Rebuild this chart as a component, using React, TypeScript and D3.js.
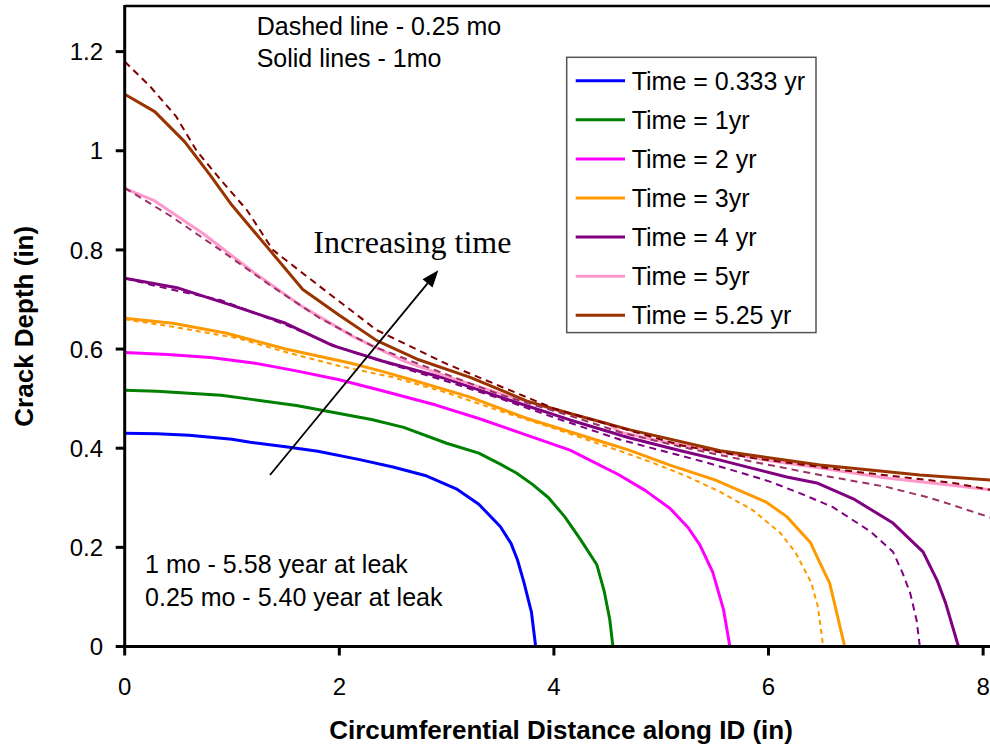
import React from 'react';
import * as d3 from 'd3';

type P = [number, number];

const W = 990;
const H = 747;

const xTicks = [0, 2, 4, 6, 8];
const yTicks = [0, 0.2, 0.4, 0.6, 0.8, 1, 1.2];

const legendLabels = [
  'Time = 0.333 yr',
  'Time = 1yr',
  'Time = 2 yr',
  'Time = 3yr',
  'Time = 4 yr',
  'Time = 5yr',
  'Time = 5.25 yr',
];
const solidColors = ['#0000FF', '#008000', '#FF00FF', '#FF9900', '#800080', '#FF99CC', '#993300'];

// Solid lines (1 mo step)
const t0333: P[] = [[0,0.430],[0.3,0.429],[0.6,0.426],[1.0,0.418],[1.17,0.412],[1.5,0.403],[1.8,0.394],[2.19,0.377],[2.5,0.362],[2.8,0.345],[3.09,0.318],[3.3,0.287],[3.5,0.242],[3.6,0.208],[3.66,0.175],[3.72,0.13],[3.79,0.07],[3.83,0]];
const t1: P[] = [[0,0.517],[0.3,0.515],[0.6,0.511],[0.9,0.507],[1.2,0.498],[1.6,0.486],[2.0,0.47],[2.3,0.458],[2.6,0.442],[3.0,0.41],[3.3,0.39],[3.5,0.368],[3.65,0.35],[3.8,0.327],[3.95,0.3],[4.1,0.262],[4.25,0.215],[4.4,0.165],[4.47,0.11],[4.52,0.055],[4.55,0]];
const t2: P[] = [[0,0.593],[0.4,0.589],[0.8,0.583],[1.2,0.572],[1.6,0.556],[2.0,0.538],[2.4,0.516],[2.9,0.487],[3.3,0.46],[3.7,0.43],[4.15,0.396],[4.6,0.347],[4.85,0.315],[5.08,0.279],[5.25,0.24],[5.36,0.205],[5.48,0.15],[5.58,0.075],[5.64,0]];
const t3: P[] = [[0,0.662],[0.45,0.652],[0.95,0.632],[1.5,0.6],[2.1,0.572],[2.4,0.555],[2.72,0.535],[3.22,0.503],[3.75,0.46],[4.3,0.423],[4.7,0.396],[5.08,0.366],[5.5,0.336],[5.98,0.291],[6.17,0.262],[6.39,0.21],[6.48,0.168],[6.57,0.128],[6.71,0]];
const t4: P[] = [[0,0.743],[0.5,0.723],[1.0,0.688],[1.5,0.652],[1.94,0.607],[2.4,0.576],[3.0,0.54],[3.5,0.503],[4.15,0.457],[4.7,0.421],[5.2,0.394],[5.55,0.376],[6.17,0.342],[6.45,0.33],[6.79,0.298],[7.16,0.249],[7.44,0.191],[7.57,0.134],[7.65,0.088],[7.77,0]];
const t5: P[] = [[0,0.924],[0.27,0.9],[0.73,0.833],[1.2,0.755],[1.66,0.685],[2.13,0.625],[2.6,0.576],[3.0,0.545],[3.5,0.51],[4.0,0.478],[4.5,0.45],[4.62,0.432],[5.0,0.414],[5.55,0.393],[6.0,0.375],[6.48,0.36],[7.1,0.34],[7.6,0.328],[8.07,0.316]];
const t525: P[] = [[0,1.114],[0.28,1.079],[0.56,1.018],[0.8,0.95],[1.0,0.89],[1.35,0.8],[1.66,0.72],[2.0,0.668],[2.35,0.617],[2.72,0.58],[3.22,0.543],[3.75,0.495],[4.15,0.47],[4.71,0.437],[5.55,0.395],[6.48,0.366],[7.41,0.346],[8.07,0.336]];

// Dashed lines (0.25 mo step)
const d3yr: P[] = [[0,0.66],[0.45,0.645],[1.05,0.622],[1.5,0.594],[2.0,0.566],[2.5,0.543],[3.0,0.512],[3.5,0.475],[4.0,0.44],[4.62,0.394],[4.93,0.37],[5.24,0.343],[5.55,0.312],[5.86,0.274],[6.11,0.229],[6.25,0.19],[6.4,0.128],[6.46,0.08],[6.51,0]];
const d4yr: P[] = [[0,0.743],[0.27,0.728],[0.89,0.699],[1.5,0.649],[2.0,0.603],[2.5,0.568],[3.0,0.535],[3.5,0.5],[4.0,0.462],[4.62,0.417],[5.39,0.373],[5.86,0.343],[6.02,0.332],[6.33,0.306],[6.6,0.281],[6.95,0.232],[7.16,0.191],[7.25,0.148],[7.32,0.108],[7.38,0.053],[7.41,0]];
const d5yr: P[] = [[0,0.925],[0.43,0.868],[0.89,0.8],[1.36,0.728],[1.82,0.662],[2.3,0.607],[2.8,0.565],[3.5,0.508],[4.2,0.462],[4.62,0.432],[5.2,0.402],[5.8,0.375],[6.48,0.346],[7.1,0.322],[7.5,0.3],[7.72,0.285],[8.07,0.26]];
const d525yr: P[] = [[0,1.18],[0.24,1.129],[0.48,1.069],[0.67,1.0],[0.9,0.94],[1.14,0.88],[1.38,0.8],[1.82,0.726],[2.35,0.638],[3.0,0.57],[3.5,0.525],[4.0,0.48],[4.62,0.441],[5.2,0.405],[5.86,0.38],[6.79,0.353],[7.72,0.33],[8.07,0.316]];

const solidSeries = [t0333, t1, t2, t3, t4, t5, t525];
const dashedSeries = [d3yr, d4yr, d5yr, d525yr];
const dashedColors = ['#FF9900', '#800080', '#993366', '#800000'];
const dashedPatterns = ['5,4', '7,5', '7,5', '7,5'];

const SANS = '"Liberation Sans", Arial, sans-serif';
const SERIF = '"Liberation Serif", "Times New Roman", serif';

export default function App() {
  const x = d3.scaleLinear().domain([0, 8.064]).range([124.7, 990]);
  const y = d3.scaleLinear().domain([0, 1.292]).range([646.5, 6]);
  const line = d3.line<P>().x(d => x(d[0])).y(d => y(d[1]));

  const x0 = x(0), y0 = y(0), yTop = y(1.292);

  const legX = 566.7, legY = 57.3, legW = 249.3, legH = 275.3;
  const rowY = (i: number) => 80.7 + i * 39.1;

  // annotation arrow in data coords
  const arrowStart: P = [1.354, 0.346];
  const arrowTip: P = [2.923, 0.759];

  return (
    <div style={{ position: 'absolute', left: 0, top: 0 }}>
      <svg width={W} height={H} style={{ display: 'block', background: '#fff' }}>
        <defs>
          <clipPath id="plot">
            <rect x={x0} y={yTop} width={990 - x0} height={y0 - yTop + 2} />
          </clipPath>
        </defs>

        <g clipPath="url(#plot)">
          {solidSeries.map((s, i) => (
            <path key={'s' + i} d={line(s) || ''} fill="none" stroke={solidColors[i]} strokeWidth={3} strokeLinejoin="round" />
          ))}
          {dashedSeries.map((s, i) => (
            <path key={'d' + i} d={line(s) || ''} fill="none" stroke={dashedColors[i]} strokeWidth={2} strokeDasharray={dashedPatterns[i]} />
          ))}
        </g>

        {/* frame / axes */}
        <line x1={x0} y1={yTop} x2={990} y2={yTop} stroke="#000" strokeWidth={2.5} />
        <line x1={x0} y1={yTop - 1} x2={x0} y2={y0 + 1.5} stroke="#000" strokeWidth={3} />
        <line x1={x0 - 1.5} y1={y0} x2={990} y2={y0} stroke="#000" strokeWidth={3} />

        {yTicks.map((t, i) => (
          <g key={'yt' + i}>
            <line x1={x0 - 9} x2={x0} y1={y(t)} y2={y(t)} stroke="#000" strokeWidth={3} />
            <text x={103} y={y(t)} dy="0.36em" textAnchor="end" fontFamily={SANS} fontSize={24} fill="#000">{String(t)}</text>
          </g>
        ))}
        {xTicks.map((t, i) => (
          <g key={'xt' + i}>
            <line x1={x(t)} x2={x(t)} y1={y0} y2={y0 + 9} stroke="#000" strokeWidth={3} />
            <text x={x(t)} y={695} textAnchor="middle" fontFamily={SANS} fontSize={24} fill="#000">{String(t)}</text>
          </g>
        ))}

        <text x={561} y={739} textAnchor="middle" fontFamily={SANS} fontSize={26} fontWeight="bold" fill="#000">Circumferential Distance along ID (in)</text>
        <text transform={`translate(33,${(yTop + y0) / 2}) rotate(-90)`} textAnchor="middle" fontFamily={SANS} fontSize={26} fontWeight="bold" fill="#000">Crack Depth (in)</text>

        {/* legend */}
        <rect x={legX} y={legY} width={legW} height={legH} fill="#fff" stroke="#555" strokeWidth={1.5} />
        {legendLabels.map((lab, i) => (
          <g key={'lg' + i}>
            <line x1={575.7} x2={625} y1={rowY(i)} y2={rowY(i)} stroke={solidColors[i]} strokeWidth={3} />
            <text x={631.7} y={rowY(i)} dy="0.36em" fontFamily={SANS} fontSize={25} fill="#000">{lab}</text>
          </g>
        ))}

        {/* annotations */}
        <text x={x(1.23)} y={y(1.233)} fontFamily={SANS} fontSize={25} fill="#000">Dashed line - 0.25 mo</text>
        <text x={x(1.23)} y={y(1.169)} fontFamily={SANS} fontSize={25} fill="#000">Solid lines - 1mo</text>
        <text x={x(0.19)} y={y(0.148)} fontFamily={SANS} fontSize={25} fill="#000">1 mo - 5.58 year at leak</text>
        <text x={x(0.19)} y={y(0.082)} fontFamily={SANS} fontSize={25} fill="#000">0.25 mo - 5.40 year at leak</text>
        <text x={x(1.757)} y={y(0.793)} fontFamily={SERIF} fontSize={32} fill="#000">Increasing time</text>

        {(() => {
          const sx = x(arrowStart[0]), sy = y(arrowStart[1]);
          const tx = x(arrowTip[0]), ty = y(arrowTip[1]);
          const ang = Math.atan2(ty - sy, tx - sx);
          const L = 17, Wd = 6.5;
          const bx = tx - L * Math.cos(ang), by = ty - L * Math.sin(ang);
          const px = -Math.sin(ang), py = Math.cos(ang);
          const pts = `${tx},${ty} ${bx + Wd * px},${by + Wd * py} ${bx - Wd * px},${by - Wd * py}`;
          return (
            <g>
              <line x1={sx} y1={sy} x2={bx} y2={by} stroke="#000" strokeWidth={1.8} />
              <polygon points={pts} fill="#000" />
            </g>
          );
        })()}
      </svg>
    </div>
  );
}
